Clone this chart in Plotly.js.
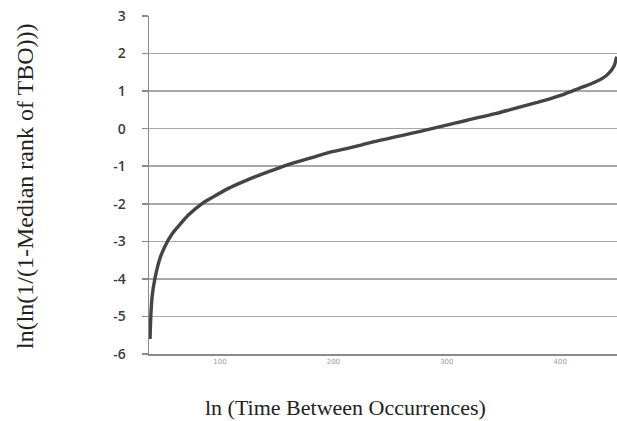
<!DOCTYPE html>
<html>
<head>
<meta charset="utf-8">
<script src="https://cdn.plot.ly/plotly-3.0.1.min.js"></script>
<style>html,body{margin:0;padding:0;background:#fff;}#chart{width:617px;height:421px;}</style>
</head>
<body>
<div id="chart"></div>
<script>
// Values
const xValues = [38.4, 39.3, 40.4, 42.8, 47.2, 51.6, 57.5, 63.4, 72.2, 84.0, 92.8, 107.5, 122.2, 137.0, 151.7, 166.4, 181.1, 195.8, 210.5, 225.2, 239.9, 254.6, 269.4, 284.0, 298.8, 313.5, 328.2, 342.9, 357.6, 372.3, 387.0, 401.8, 416.4, 428.2, 437.1, 442.9, 447.3, 449.7];
const yValues = [-5.6, -4.88, -4.43, -3.98, -3.45, -3.13, -2.82, -2.60, -2.30, -2.0, -1.84, -1.59, -1.39, -1.21, -1.05, -0.90, -0.77, -0.64, -0.54, -0.43, -0.32, -0.22, -0.12, -0.02, 0.09, 0.19, 0.30, 0.40, 0.52, 0.64, 0.76, 0.90, 1.07, 1.21, 1.34, 1.48, 1.66, 1.92];
const xTickVals = [100, 200, 300, 400];
const xTickText = ["100", "200", "300", "400"];
const yTickVals = [-6, -5, -4, -3, -2, -1, 0, 1, 2, 3];
const yTickText = ["-6", "-5", "-4", "-3", "-2", "-1", "0", "1", "2", "3"];
const xTitle = "ln (Time Between Occurrences)";
const yTitle = "ln(ln(1/(1-Median rank of TBO)))";

const trace = {
  x: xValues, y: yValues, type: 'scatter', mode: 'lines',
  line: {color: '#444444', width: 3.4, shape: 'spline', smoothing: 0.8},
  hoverinfo: 'none'
};

const layout = {
  width: 617, height: 421,
  margin: {l: 149, r: 0, t: 16, b: 67},
  paper_bgcolor: '#ffffff', plot_bgcolor: '#ffffff',
  showlegend: false,
  xaxis: {
    range: [37.5, 450], tickmode: 'array', tickvals: xTickVals, ticktext: xTickText,
    showgrid: false, zeroline: false, showline: true, linecolor: '#8a8a8a', linewidth: 1.5,
    ticks: '', tickfont: {family: 'DejaVu Sans', size: 7, color: '#9a9a9a'}
  },
  yaxis: {
    range: [-6, 3], tickmode: 'array', tickvals: yTickVals, ticktext: yTickText,
    showgrid: true, gridcolor: '#a8a8a8', gridwidth: 1.5, zeroline: false,
    showline: true, linecolor: '#8a8a8a', linewidth: 1.5,
    ticks: 'outside', ticklen: 6, tickcolor: '#8a8a8a', tickwidth: 1.5,
    ticklabelstandoff: 13,
    tickfont: {family: 'Open Sans', size: 14, weight: 600, color: '#3c3c3c'}
  },
  annotations: [
    {text: xTitle, xref: 'paper', yref: 'paper', x: (345 - 149) / 468, y: -(407 - 354) / 338,
     xanchor: 'center', yanchor: 'middle', showarrow: false,
     font: {family: 'Liberation Serif', size: 22, color: '#222222'}},
    {text: yTitle, xref: 'paper', yref: 'paper', x: -(149 - 25) / 468, y: (354 - 187) / 338,
     xanchor: 'center', yanchor: 'middle', showarrow: false, textangle: -90,
     font: {family: 'Liberation Serif', size: 24, color: '#222222'}}
  ]
};

Plotly.newPlot('chart', [trace], layout, {displayModeBar: false, staticPlot: true});
</script>
</body>
</html>
